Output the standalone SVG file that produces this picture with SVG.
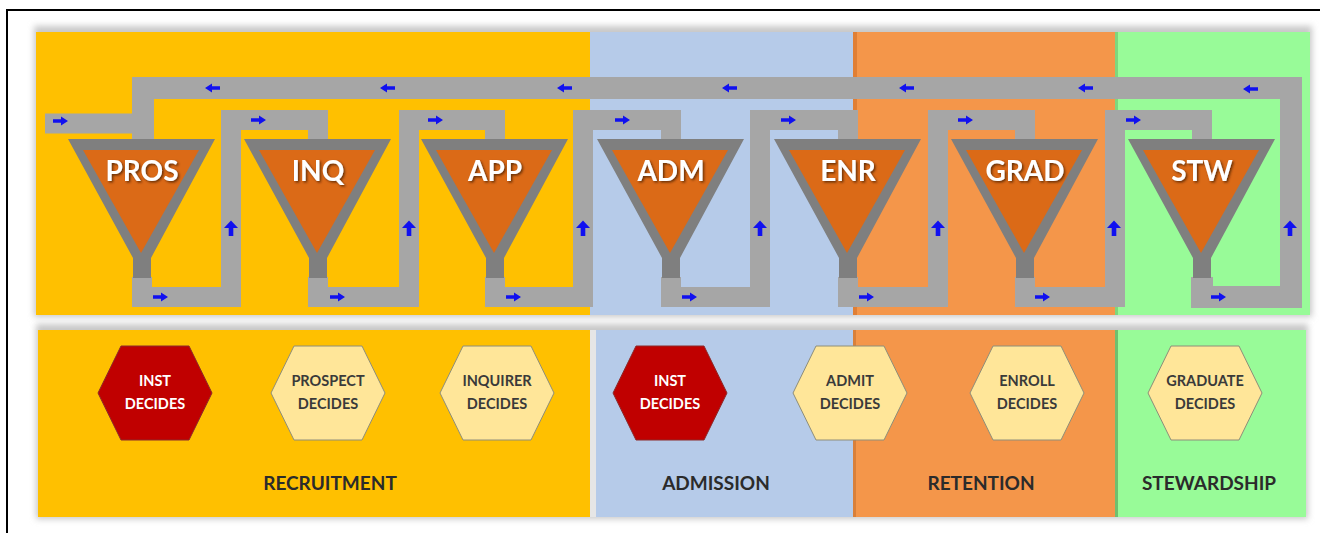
<svg xmlns="http://www.w3.org/2000/svg" width="1320" height="533" viewBox="0 0 1320 533">
<defs>
<style>
.pipe{fill:none;stroke:#A6A6A6;stroke-width:20;stroke-linejoin:miter;stroke-linecap:butt}
.pipeW{fill:none;stroke:#A6A6A6;stroke-width:22;stroke-linejoin:miter;stroke-linecap:butt}
.frame{fill:#7F7F7F}
.core{fill:#DB6A17}
.flab{font-family:Lato,"Open Sans","Liberation Sans",sans-serif;font-weight:bold;font-size:28px;fill:#FFFFFF;text-anchor:middle;filter:url(#ts)}
.hexR{fill:#C00000;stroke:#8C2A2A;stroke-width:1}
.hexY{fill:#FFE699;stroke:#8E8E7A;stroke-width:1}
.htR{font-family:Lato,"Liberation Sans",sans-serif;font-weight:bold;font-size:14.5px;fill:#FFFFFF;text-anchor:middle}
.htY{font-family:Lato,"Liberation Sans",sans-serif;font-weight:bold;font-size:14.5px;fill:#3A3A3A;text-anchor:middle}
.sec{font-family:Lato,"Liberation Sans",sans-serif;font-weight:bold;font-size:19px;fill:#2B2B2B;text-anchor:middle}
.arr{fill:#1010F0}
</style>
<filter id="ts" x="-20%" y="-20%" width="140%" height="150%">
<feDropShadow dx="1.5" dy="1.5" stdDeviation="0.8" flood-color="#4A2000" flood-opacity="0.8"/>
</filter>
<filter id="sh" x="-5%" y="-20%" width="110%" height="140%">
<feGaussianBlur stdDeviation="3"/>
</filter>
<path id="ra" d="M-7,-1.8 H1 V-4.5 L8,0 L1,4.5 V1.8 H-7 Z"/>
<path id="ua" d="M-2.3,8 V0 H-7 L0,-7.5 L7,0 H2.3 V8 Z"/>
</defs>

<rect x="7" y="10" width="1320" height="530" fill="#FFFFFF" stroke="#000000" stroke-width="2"/>

<g id="panel-top">
<rect x="34" y="26" width="1278" height="291" fill="#C8C8C8" filter="url(#sh)"/>
<rect x="36" y="32" width="554" height="283" fill="#FFC000"/>
<rect x="590" y="32" width="263" height="283" fill="#B6CBE9"/>
<rect x="853" y="32" width="262" height="283" fill="#F4964A"/>
<rect x="853" y="32" width="4" height="283" fill="#E07F35"/>
<rect x="1115" y="32" width="195" height="283" fill="#98FB98"/>
<rect x="1115" y="32" width="3" height="283" fill="#7ED67E"/>
</g>

<g id="panel-bottom">
<rect x="36" y="324" width="1272" height="195" fill="#C8C8C8" filter="url(#sh)"/>
<rect x="590" y="330" width="6" height="187" fill="#E6E6E6"/>
<rect x="38" y="330" width="552" height="187" fill="#FFC000"/>
<rect x="596" y="330" width="257" height="187" fill="#B6CBE9"/>
<rect x="853" y="330" width="262" height="187" fill="#F4964A"/>
<rect x="853" y="330" width="3" height="187" fill="#D9803A"/>
<rect x="1115" y="330" width="191" height="187" fill="#98FB98"/>
<rect x="1115" y="330" width="3" height="187" fill="#6FBF6F"/>
</g>

<g id="connectors">
<path class="pipeW" d="M1202,277 V297 H1291 V88 H143 V139"/>
<path class="pipe" d="M45,123.5 H150"/>
<path class="pipe" d="M142,277 V297 H231 V120 H318 V139"/>
<path class="pipe" d="M318,277 V297 H409 V120 H495 V139"/>
<path class="pipe" d="M495,277 V297 H583 V120 H671 V139"/>
<path class="pipe" d="M671,277 V297 H760 V120 H848 V139"/>
<path class="pipe" d="M848,277 V297 H938 V120 H1025 V139"/>
<path class="pipe" d="M1025,277 V297 H1115 V120 H1202 V139"/>
<g class="arr">
<use href="#ra" x="60" y="121"/>
<use href="#ra" x="258" y="120"/>
<use href="#ra" x="435" y="120"/>
<use href="#ra" x="622" y="120"/>
<use href="#ra" x="788" y="120"/>
<use href="#ra" x="965" y="120"/>
<use href="#ra" x="1133" y="120"/>
<use href="#ra" x="160" y="297"/>
<use href="#ra" x="337" y="297"/>
<use href="#ra" x="513" y="297"/>
<use href="#ra" x="689" y="297"/>
<use href="#ra" x="866" y="297"/>
<use href="#ra" x="1042" y="297"/>
<use href="#ra" x="1218" y="297"/>
<use href="#ua" x="231" y="228"/>
<use href="#ua" x="409" y="228"/>
<use href="#ua" x="583" y="228"/>
<use href="#ua" x="760" y="228"/>
<use href="#ua" x="938" y="228"/>
<use href="#ua" x="1114" y="228"/>
<use href="#ua" x="1290" y="228"/>
<use href="#ra" transform="translate(213,88) rotate(180)"/>
<use href="#ra" transform="translate(388,88) rotate(180)"/>
<use href="#ra" transform="translate(565,88) rotate(180)"/>
<use href="#ra" transform="translate(730,88) rotate(180)"/>
<use href="#ra" transform="translate(907,88) rotate(180)"/>
<use href="#ra" transform="translate(1086,88) rotate(180)"/>
<use href="#ra" transform="translate(1251,89) rotate(180)"/>
</g>
</g>

<g id="funnel-pros" transform="translate(142,0)">
<path class="frame" d="M-74,139 H73 L9,258 V278 H-9 V258 Z"/>
<path class="core" d="M-59,150 H57 L-1,253 Z"/>
<text class="flab" x="0" y="181">PROS</text>
</g>
<g id="funnel-inq" transform="translate(318,0)">
<path class="frame" d="M-74,139 H73 L9,258 V278 H-9 V258 Z"/>
<path class="core" d="M-59,150 H57 L-1,253 Z"/>
<text class="flab" x="0" y="181">INQ</text>
</g>
<g id="funnel-app" transform="translate(495,0)">
<path class="frame" d="M-74,139 H73 L9,258 V278 H-9 V258 Z"/>
<path class="core" d="M-59,150 H57 L-1,253 Z"/>
<text class="flab" x="0" y="181">APP</text>
</g>
<g id="funnel-adm" transform="translate(671,0)">
<path class="frame" d="M-74,139 H73 L9,258 V278 H-9 V258 Z"/>
<path class="core" d="M-59,150 H57 L-1,253 Z"/>
<text class="flab" x="0" y="181">ADM</text>
</g>
<g id="funnel-enr" transform="translate(848,0)">
<path class="frame" d="M-74,139 H73 L9,258 V278 H-9 V258 Z"/>
<path class="core" d="M-59,150 H57 L-1,253 Z"/>
<text class="flab" x="0" y="181">ENR</text>
</g>
<g id="funnel-grad" transform="translate(1025,0)">
<path class="frame" d="M-74,139 H73 L9,258 V278 H-9 V258 Z"/>
<path class="core" d="M-59,150 H57 L-1,253 Z"/>
<text class="flab" x="0" y="181">GRAD</text>
</g>
<g id="funnel-stw" transform="translate(1202,0)">
<path class="frame" d="M-74,139 H73 L9,258 V278 H-9 V258 Z"/>
<path class="core" d="M-59,150 H57 L-1,253 Z"/>
<text class="flab" x="0" y="181">STW</text>
</g>

<g id="hex-inst-1" transform="translate(155,393)">
<path class="hexR" d="M-57,0 L-34,-47 H34 L57,0 L34,47 H-34 Z"/>
<text class="htR" x="0" y="-7">INST</text>
<text class="htR" x="0" y="16">DECIDES</text>
</g>
<g id="hex-prospect" transform="translate(328,393)">
<path class="hexY" d="M-57,0 L-34,-47 H34 L57,0 L34,47 H-34 Z"/>
<text class="htY" x="0" y="-7">PROSPECT</text>
<text class="htY" x="0" y="16">DECIDES</text>
</g>
<g id="hex-inquirer" transform="translate(497,393)">
<path class="hexY" d="M-57,0 L-34,-47 H34 L57,0 L34,47 H-34 Z"/>
<text class="htY" x="0" y="-7">INQUIRER</text>
<text class="htY" x="0" y="16">DECIDES</text>
</g>
<g id="hex-inst-2" transform="translate(670,393)">
<path class="hexR" d="M-57,0 L-34,-47 H34 L57,0 L34,47 H-34 Z"/>
<text class="htR" x="0" y="-7">INST</text>
<text class="htR" x="0" y="16">DECIDES</text>
</g>
<g id="hex-admit" transform="translate(850,393)">
<path class="hexY" d="M-57,0 L-34,-47 H34 L57,0 L34,47 H-34 Z"/>
<text class="htY" x="0" y="-7">ADMIT</text>
<text class="htY" x="0" y="16">DECIDES</text>
</g>
<g id="hex-enroll" transform="translate(1027,393)">
<path class="hexY" d="M-57,0 L-34,-47 H34 L57,0 L34,47 H-34 Z"/>
<text class="htY" x="0" y="-7">ENROLL</text>
<text class="htY" x="0" y="16">DECIDES</text>
</g>
<g id="hex-graduate" transform="translate(1205,393)">
<path class="hexY" d="M-57,0 L-34,-47 H34 L57,0 L34,47 H-34 Z"/>
<text class="htY" x="0" y="-7">GRADUATE</text>
<text class="htY" x="0" y="16">DECIDES</text>
</g>

<g id="section-labels">
<text class="sec" x="330" y="490">RECRUITMENT</text>
<text class="sec" x="716" y="490">ADMISSION</text>
<text class="sec" x="981" y="490">RETENTION</text>
<text class="sec" x="1209" y="490">STEWARDSHIP</text>
</g>
</svg>
